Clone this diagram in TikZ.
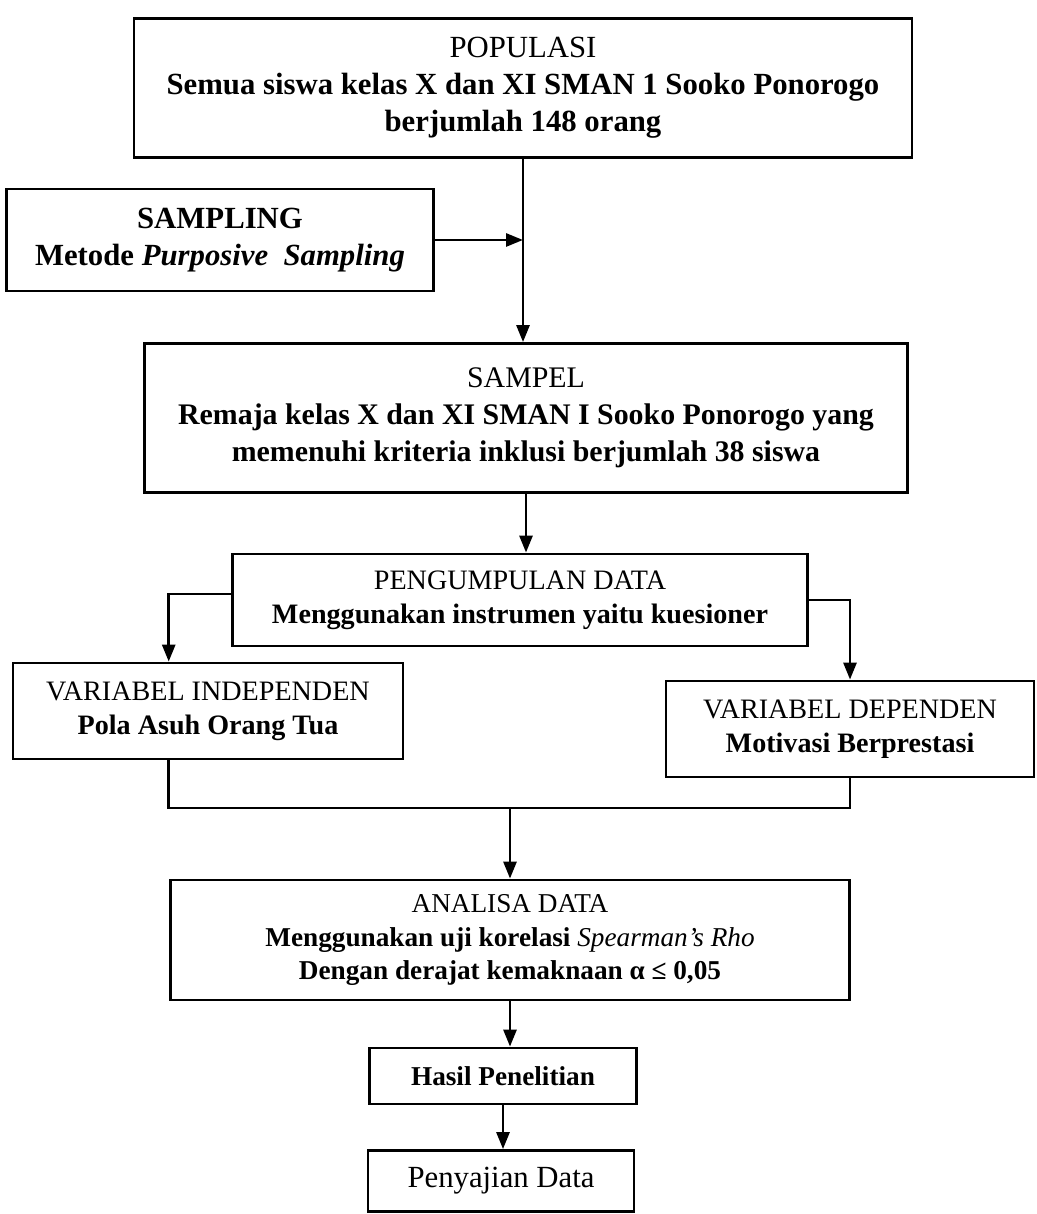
\documentclass[tikz,border=0pt]{standalone}
\usepackage{fontspec}
\setmainfont{Liberation Serif}
\usetikzlibrary{positioning,arrows.meta,calc}

\tikzset{
  kotak/.style={draw, line width=1.6pt, align=center, inner sep=0pt},
  panah/.style={->, line width=1.6pt},
}

\begin{document}
\begin{tikzpicture}[>={Triangle[length=0.34cm,width=0.26cm]}]
  \useasboundingbox (0,0) rectangle (20.72,24.28);
  % kotak-kotak
  \node[kotak, minimum width=15.56cm, minimum height=2.78cm, font=\fontsize{17.5}{21}\selectfont] (populasi) at (10.46,22.52)
    {POPULASI\\ \textbf{Semua siswa kelas X dan XI SMAN 1 Sooko Ponorogo}\\ \textbf{berjumlah 148 orang}};
  \node[kotak, minimum width=8.54cm, minimum height=2.04cm, font=\fontsize{17.5}{21}\selectfont] (sampling) at (4.40,19.48)
    {\textbf{SAMPLING}\\ \textbf{Metode \textit{Purposive\ \ Sampling}}};
  \node[kotak, minimum width=15.26cm, minimum height=2.98cm, font=\fontsize{17}{21}\selectfont] (sampel) at (10.52,15.92)
    {SAMPEL\\ \textbf{Remaja kelas X dan XI SMAN I Sooko Ponorogo yang}\\ \textbf{memenuhi kriteria inklusi berjumlah 38 siswa}};
  \node[kotak, minimum width=11.50cm, minimum height=1.84cm, font=\fontsize{16}{19.5}\selectfont] (kumpul) at (10.40,12.28)
    {PENGUMPULAN DATA\\ \textbf{Menggunakan instrumen yaitu kuesioner}};
  \node[kotak, minimum width=7.80cm, minimum height=1.92cm, font=\fontsize{16}{19.5}\selectfont] (indep) at (4.16,10.06)
    {VARIABEL INDEPENDEN\\ \textbf{Pola Asuh Orang Tua}};
  \node[kotak, minimum width=7.36cm, minimum height=1.92cm, font=\fontsize{16}{19.5}\selectfont] (dep) at (17.00,9.70)
    {VARIABEL DEPENDEN\\ \textbf{Motivasi Berprestasi}};
  \node[kotak, minimum width=13.58cm, minimum height=2.40cm, font=\fontsize{15.5}{19}\selectfont] (analisa) at (10.20,5.48)
    {ANALISA DATA\\ \textbf{Menggunakan uji korelasi} \textit{Spearman’s Rho}\\ \textbf{Dengan derajat kemaknaan α ≤ 0,05}};
  \node[kotak, minimum width=5.34cm, minimum height=1.12cm, font=\fontsize{15.5}{19}\selectfont] (hasil) at (10.06,2.76)
    {\textbf{Hasil Penelitian}};
  \node[kotak, minimum width=5.32cm, minimum height=1.22cm, font=\fontsize{17.5}{21}\selectfont] (saji) at (10.02,0.66)
    {Penyajian Data};
  % titik bantu
  \coordinate (titikA) at ($(indep.north west)!0.4!(indep.north east)$);
  \coordinate (titikB) at ($(indep.south west)!0.4!(indep.south east)$);
  \coordinate (gabung) at (analisa.north |- 0,8.12);
  % panah
  \draw[panah] (populasi.south) -- (populasi.south |- sampel.north);
  \draw[panah] (sampling.east) -- (sampling.east -| populasi.south);
  \draw[panah] (sampel.south) -- (sampel.south |- kumpul.north);
  \draw[panah] ([yshift=0.12cm]kumpul.west) -| (titikA);
  \draw[panah] (kumpul.east) -| (dep.north);
  \draw[line width=1.6pt] (titikB) |- (gabung) -| (dep.south);
  \draw[panah] (gabung) -- (analisa.north);
  \draw[panah] (analisa.south) -- (analisa.south |- hasil.north);
  \draw[panah] (hasil.south) -- (hasil.south |- saji.north);
\end{tikzpicture}
\end{document}
